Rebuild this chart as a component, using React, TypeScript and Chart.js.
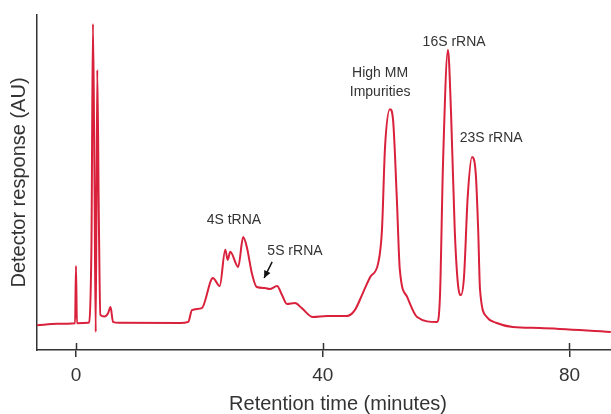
import React, { useEffect, useRef } from "react";
import { Chart, registerables } from "chart.js";

Chart.register(...registerables);

// Retention time (minutes)
const times: number[] = [
  -6.3, -3, -0.15, 0, 0.15, 2.0, 2.5, 2.75, 3.0, 3.2, 3.45, 3.7, 3.95, 4.6, 5.2, 5.6, 6.0, 7.0,
  16.9, 18.2, 18.8, 20.4, 22.2, 23.3, 24.2, 24.6, 25.0, 26.3, 27.1, 27.7, 28.5, 29.3, 30.6, 31.4,
  32.6, 33.4, 34.2, 35.5, 36.6, 38.4, 40.7, 43.9, 45.2, 46.5, 47.7, 49.0, 49.6, 50.1, 50.9, 51.4,
  52.0, 52.5, 53.7, 55.3, 58.5, 59.0, 59.5, 60.3, 60.8, 61.4, 61.9, 62.4, 62.9, 63.5, 64.2, 64.8,
  65.2, 65.5, 66.6, 68.2, 70.8, 75.2, 86.7,
];

// Detector response (AU)
const response: number[] = [
  7.4, 7.8, 8.0, 25.1, 8.0, 8.1, 30, 97.3, 50, 5.4, 83.6, 40, 10.5, 10.0, 11.0, 12.8, 8.4, 8.1,
  8.06, 8.4, 11.9, 12.5, 21.5, 19.1, 29.9, 26.9, 29.3, 24.8, 33.7, 30.7, 23.0, 18.8, 18.5, 18.2,
  19.1, 16.4, 13.7, 14.0, 12.5, 9.85, 10.15, 10.15, 11.9, 17.0, 21.8, 26.0, 35.8, 60.6, 71.9, 68.7,
  45.7, 23.9, 15.8, 9.85, 8.36, 15.8, 55.8, 89.6, 70.7, 35.8, 20.0, 16.4, 21.8, 45.7, 57.6, 52.8,
  35.8, 17.9, 9.85, 8.06, 6.87, 6.57, 5.37,
];

const xTicks: number[] = [0, 40, 80];
const xTitle = "Retention time (minutes)";
const yTitle = "Detector response (AU)";

// Peak labels: [text lines, time, response]
const labelTexts: string[][] = [["4S tRNA"], ["5S rRNA"], ["High MM", "Impurities"], ["16S rRNA"], ["23S rRNA"]];
const labelTimes: number[] = [25.6, 35.5, 49.3, 61.3, 67.3];
const labelResponses: number[] = [38.8, 29.6, 79.9, 91.9, 63.3];

// Arrow for 5S rRNA: from -> to
const arrowTimes: number[] = [31.8, 30.5];
const arrowResponses: number[] = [26.3, 21.5];

const TEXT = "#333333";
const RED = "#d9213b";
const FONT = "'Liberation Sans', Arial, sans-serif";

export default function App() {
  const ref = useRef<HTMLCanvasElement | null>(null);

  useEffect(() => {
    if (!ref.current) return;
    const annot = {
      id: "annot",
      afterDraw(chart: any) {
        const { ctx, scales, chartArea } = chart;
        const xs = scales.x;
        const ys = scales.y;
        ctx.save();
        // upward part of crossing ticks
        ctx.strokeStyle = TEXT;
        ctx.lineWidth = 1.5;
        const yb = chartArea.bottom;
        xTicks.forEach((t) => {
          const px = Math.round(xs.getPixelForValue(t)) + 0.5;
          ctx.beginPath();
          ctx.moveTo(px, yb);
          ctx.lineTo(px, yb - 7);
          ctx.stroke();
        });
        // x axis title
        ctx.fillStyle = TEXT;
        ctx.font = "20px " + FONT;
        ctx.textAlign = "center";
        ctx.textBaseline = "middle";
        ctx.fillText(xTitle, (chartArea.left + chartArea.right) / 2 + 14, xs.bottom - 10);
        // labels
        ctx.font = "14px " + FONT;
        labelTexts.forEach((lines, i) => {
          const px = xs.getPixelForValue(labelTimes[i]);
          const py = ys.getPixelForValue(labelResponses[i]);
          const lh = 19;
          const start = py - ((lines.length - 1) * lh) / 2;
          lines.forEach((ln, j) => ctx.fillText(ln, px, start + j * lh));
        });
        // arrow
        const x1 = xs.getPixelForValue(arrowTimes[0]);
        const y1 = ys.getPixelForValue(arrowResponses[0]);
        const x2 = xs.getPixelForValue(arrowTimes[1]);
        const y2 = ys.getPixelForValue(arrowResponses[1]);
        ctx.strokeStyle = "#111";
        ctx.fillStyle = "#111";
        ctx.lineWidth = 1.5;
        ctx.beginPath();
        ctx.moveTo(x1, y1);
        ctx.lineTo(x2, y2);
        ctx.stroke();
        const ang = Math.atan2(y2 - y1, x2 - x1);
        const hl = 8;
        ctx.beginPath();
        ctx.moveTo(x2, y2);
        ctx.lineTo(x2 - hl * Math.cos(ang - 0.45), y2 - hl * Math.sin(ang - 0.45));
        ctx.lineTo(x2 - hl * Math.cos(ang + 0.45), y2 - hl * Math.sin(ang + 0.45));
        ctx.closePath();
        ctx.fill();
        ctx.restore();
      },
    };

    const chart = new Chart(ref.current, {
      type: "line",
      data: {
        datasets: [
          {
            data: times.map((t, i) => ({ x: t, y: response[i] })),
            borderColor: RED,
            borderWidth: 2,
            pointRadius: 0,
            cubicInterpolationMode: "monotone",
            fill: false,
          },
        ],
      },
      options: {
        responsive: false,
        animation: false,
        layout: { padding: { top: 15, left: 0, right: 0, bottom: 0 } },
        plugins: { legend: { display: false }, tooltip: { enabled: false } },
        scales: {
          x: {
            type: "linear",
            min: -6.32,
            max: 86.73,
            afterBuildTicks: (scale: any) => {
              scale.ticks = xTicks.map((v) => ({ value: v }));
            },
            afterFit: (scale: any) => {
              scale.height = 64;
            },
            grid: {
              drawOnChartArea: false,
              drawTicks: true,
              tickLength: 7,
              color: TEXT,
              lineWidth: 1.5,
            },
            border: { display: true, color: TEXT, width: 1.5 },
            ticks: {
              color: TEXT,
              font: { family: FONT, size: 19 },
              padding: 7,
              maxRotation: 0,
              autoSkip: false,
            },
            title: { display: false },
          },
          y: {
            type: "linear",
            min: 0,
            max: 100,
            afterFit: (scale: any) => {
              scale.width = 37;
            },
            grid: { display: false, drawTicks: false },
            border: { display: true, color: TEXT, width: 1.5 },
            ticks: { display: false },
            title: {
              display: true,
              text: yTitle,
              color: TEXT,
              font: { family: FONT, size: 20 },
              padding: { top: 7, bottom: 0 },
            },
          },
        },
      },
      plugins: [annot],
    } as any);
    return () => chart.destroy();
  }, []);

  return (
    <div style={{ position: "absolute", left: 0, top: 0, width: 611, height: 414, background: "#fff" }}>
      <canvas ref={ref} width={611} height={414} style={{ display: "block" }} />
    </div>
  );
}
